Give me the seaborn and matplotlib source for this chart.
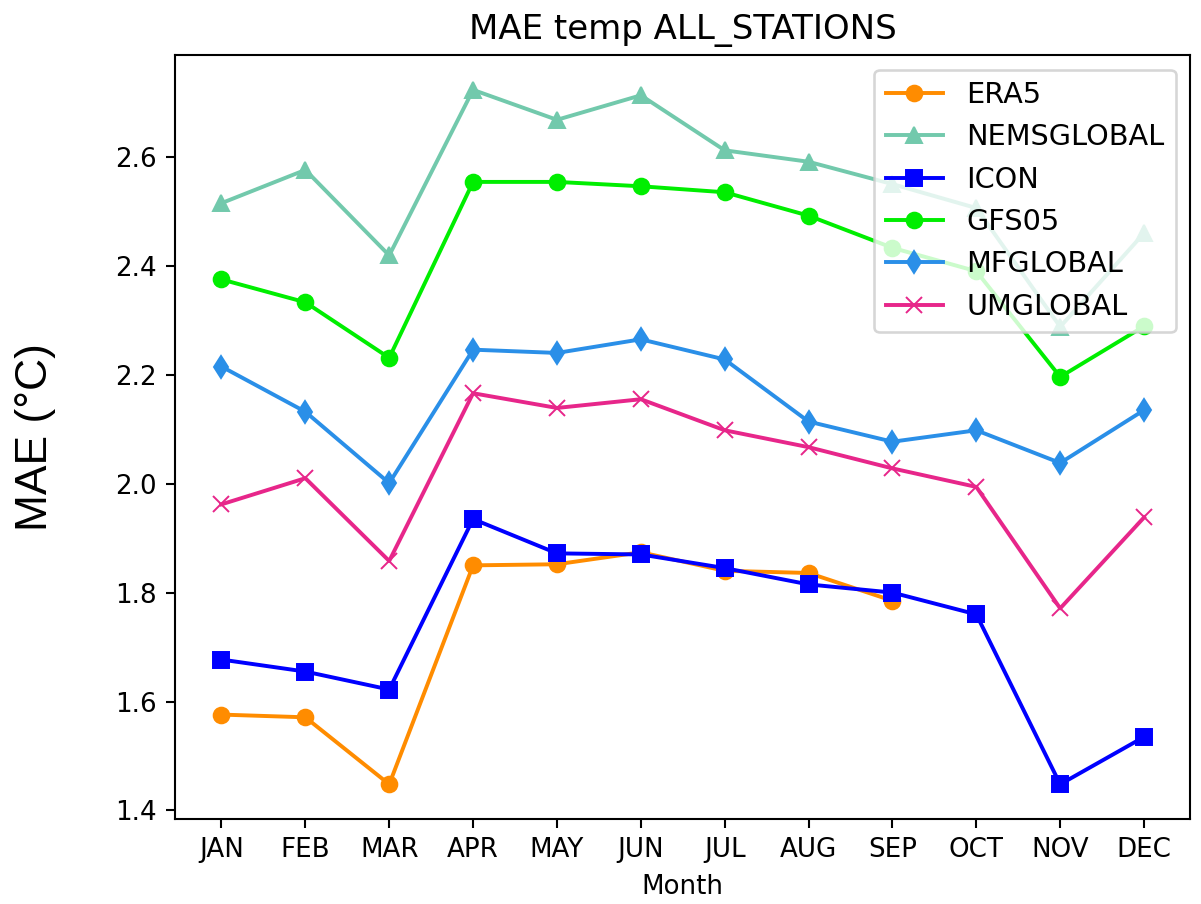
import matplotlib
matplotlib.use('Agg')
import matplotlib.pyplot as plt
import seaborn as sns

# Meses e valores de MAE por modelo
months = ['JAN', 'FEB', 'MAR', 'APR', 'MAY', 'JUN', 'JUL', 'AUG', 'SEP', 'OCT', 'NOV', 'DEC']

era5 = [1.576, 1.571, 1.448, 1.850, 1.852, 1.874, 1.840, 1.836, 1.785]
nemsglobal = [2.515, 2.576, 2.419, 2.723, 2.668, 2.713, 2.612, 2.591, 2.550, 2.506, 2.288, 2.460]
icon = [1.677, 1.655, 1.622, 1.935, 1.872, 1.870, 1.845, 1.815, 1.800, 1.760, 1.448, 1.535]
gfs05 = [2.375, 2.333, 2.231, 2.554, 2.554, 2.546, 2.535, 2.492, 2.433, 2.390, 2.196, 2.289]
mfglobal = [2.215, 2.132, 2.001, 2.246, 2.240, 2.265, 2.228, 2.114, 2.077, 2.098, 2.038, 2.135]
umglobal = [1.962, 2.010, 1.858, 2.166, 2.139, 2.155, 2.098, 2.067, 2.028, 1.994, 1.771, 1.938]

series = [
    ('ERA5', era5, 'o', '#ff8c00'),
    ('NEMSGLOBAL', nemsglobal, '^', '#72c9ac'),
    ('ICON', icon, 's', '#0000ff'),
    ('GFS05', gfs05, 'o', '#00ee00'),
    ('MFGLOBAL', mfglobal, 'd', '#2a8fe8'),
    ('UMGLOBAL', umglobal, 'x', '#e7268a'),
]

fig, ax = plt.subplots(figsize=(1201 / 188, 904 / 188), dpi=188)

for name, vals, mk, col in series:
    sns.lineplot(x=months[:len(vals)], y=vals, marker=mk, color=col, label=name,
                 markeredgecolor=col, markersize=6, linewidth=1.5, sort=False, ax=ax)

ax.set_title('MAE temp ALL_STATIONS', fontsize=13)
ax.set_xlabel('Month')
ax.set_ylabel('MAE (°C)', fontsize=17, family='Liberation Sans')
ax.yaxis.set_label_coords(-0.118, 0.5)
ax.legend(loc='upper right', fontsize=11)

plt.subplots_adjust(left=0.146, right=0.991, top=0.939, bottom=0.094)
plt.savefig('out.png')
